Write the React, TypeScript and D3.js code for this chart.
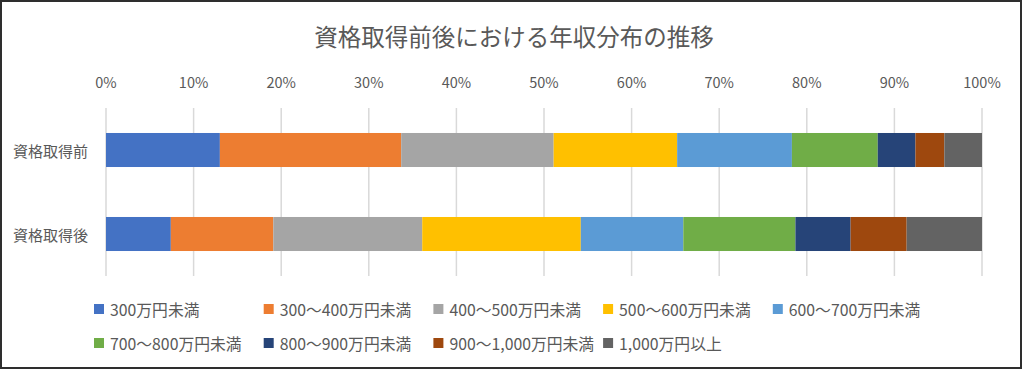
import React from "react";
import * as d3 from "d3";

const title = "資格取得前後における年収分布の推移";
const categories = ["資格取得前", "資格取得後"];
const seriesNames = [
  "300万円未満",
  "300～400万円未満",
  "400～500万円未満",
  "500～600万円未満",
  "600～700万円未満",
  "700～800万円未満",
  "800～900万円未満",
  "900～1,000万円未満",
  "1,000万円以上",
];
const seriesColors = [
  "#4472C4",
  "#ED7D31",
  "#A5A5A5",
  "#FFC000",
  "#5B9BD5",
  "#70AD47",
  "#264478",
  "#9E480E",
  "#636363",
];
// values in percent, one array per category (order of seriesNames)
const beforeValues = [13.0, 20.7, 17.4, 14.1, 13.1, 9.8, 4.3, 3.3, 4.3];
const afterValues = [7.4, 11.7, 17.0, 18.1, 11.7, 12.8, 6.3, 6.4, 8.6];
const tickValues = [0, 0.1, 0.2, 0.3, 0.4, 0.5, 0.6, 0.7, 0.8, 0.9, 1.0];

const W = 1024;
const H = 370;
const FONT = "'Noto Sans CJK JP', 'Noto Sans', sans-serif";
const TEXT = "#595959";

export default function App() {
  const valuesByCat = [beforeValues, afterValues];
  const rows = categories.map((c, i) => {
    const obj: Record<string, any> = { cat: c };
    const vals = valuesByCat[i];
    const total = d3.sum(vals);
    seriesNames.forEach((s, j) => (obj[s] = vals[j] / total));
    return obj;
  });
  const stacked = d3.stack<any>().keys(seriesNames)(rows);

  const x = d3.scaleLinear().domain([0, 1]).range([106, 982]);
  const y = d3
    .scaleBand<string>()
    .domain(categories)
    .range([108, 276])
    .paddingInner(0.595)
    .paddingOuter(0.2975);

  const legendCols = 5;
  const legendX0 = 94;
  const legendDX = 169.7;
  const legendY0 = 309;
  const legendDY = 34;

  return (
    <svg
      width={W}
      height={H}
      style={{ position: "absolute", left: 0, top: 0, background: "#fff" }}
      fontFamily={FONT}
    >
      <rect x={0} y={0} width={W} height={H} fill="#fff" />
      <rect x={1} y={1} width={1020} height={367} fill="none" stroke="#2e2e2e" strokeWidth={2} />
      <text x={514} y={36} textAnchor="middle" dominantBaseline="central" fontSize={23.5} fill={TEXT}>
        {title}
      </text>
      {tickValues.map((t) => (
        <g key={t}>
          <line x1={x(t)} x2={x(t)} y1={108} y2={276} stroke="#d9d9d9" strokeWidth={1.5} />
          <text x={x(t)} y={81} textAnchor="middle" dominantBaseline="central" fontSize={14.5} fill={TEXT}>
            {d3.format(".0%")(t)}
          </text>
        </g>
      ))}
      {categories.map((c) => (
        <text
          key={c}
          x={88}
          y={(y(c) as number) + y.bandwidth() / 2}
          textAnchor="end"
          dominantBaseline="central"
          fontSize={15}
          fill={TEXT}
        >
          {c}
        </text>
      ))}
      {stacked.map((s, j) => (
        <g key={s.key} fill={seriesColors[j]}>
          {s.map((d, i) => (
            <rect
              key={i}
              x={x(d[0])}
              width={x(d[1]) - x(d[0])}
              y={y(categories[i]) as number}
              height={y.bandwidth()}
            />
          ))}
        </g>
      ))}
      {seriesNames.map((s, j) => {
        const col = j % legendCols;
        const row = Math.floor(j / legendCols);
        const lx = legendX0 + col * legendDX;
        const ly = legendY0 + row * legendDY;
        return (
          <g key={s}>
            <rect x={lx} y={ly - 5} width={10} height={10} fill={seriesColors[j]} />
            <text x={lx + 16} y={ly} dominantBaseline="central" fontSize={15.8} fill={TEXT}>
              {s}
            </text>
          </g>
        );
      })}
    </svg>
  );
}
